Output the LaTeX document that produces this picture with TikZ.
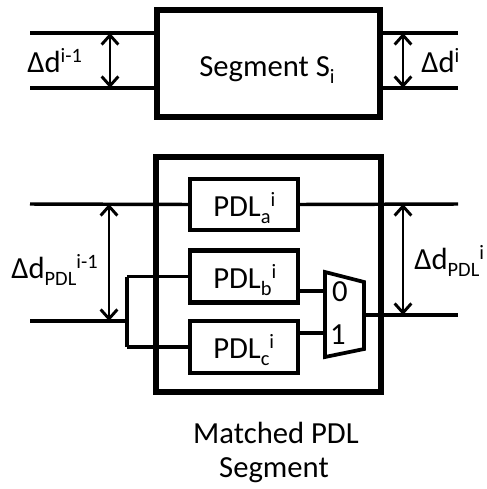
\documentclass[tikz,border=0pt]{standalone}
\usepackage{fontspec}
\setmainfont{Carlito}
\usetikzlibrary{arrows.meta}
\newcommand\sps[1]{\raisebox{0.3em}{\fontsize{15.3}{15.3}\selectfont #1}}
\newcommand\sbs[1]{\raisebox{-0.25em}{\fontsize{15.3}{15.3}\selectfont #1}}
\begin{document}
\begin{tikzpicture}[x=0.75pt,y=-0.75pt,font=\fontsize{23}{27}\selectfont,
  box/.style={draw,line width=3.3pt,fill=white,inner sep=0pt},
  bigbox/.style={draw,line width=3.8pt,inner sep=0pt},
  wire/.style={line width=2.6pt},
  darrow/.style={line width=2.2pt,{Straight Barb[length=7pt,width=12.5pt,line width=2.2pt]}-{Straight Barb[length=7pt,width=12.5pt,line width=2.2pt]}},
  lbl/.style={inner sep=0pt,anchor=base west},
  clbl/.style={inner sep=0pt,anchor=base}]
\useasboundingbox (0,0) rectangle (486,489);
% ---------- top: Segment S_i ----------
\node[bigbox,fill=white,minimum width=167.25pt,minimum height=80.25pt] (S) at (268.5,63.5) {};
\node[clbl] (St) at (267,76) {Segment S\sbs{i}};
\coordinate (tl1) at (30,33);
\coordinate (tl2) at (30,88);
\coordinate (tr1) at (458,33);
\coordinate (tr2) at (458,88);
\draw[wire] (tl1) -- (tl1 -| S.west);
\draw[wire] (tl2) -- (tl2 -| S.west);
\draw[wire] (tr1 -| S.east) -- (tr1);
\draw[wire] (tr2 -| S.east) -- (tr2);
\coordinate (ta1) at (110,33);
\coordinate (ta2) at (110,88);
\coordinate (tb1) at (403,33);
\coordinate (tb2) at (403,88);
\draw[darrow] (ta1) -- (ta2);
\draw[darrow] (tb1) -- (tb2);
\node[lbl] (dl) at (27,72) {Δd\sps{i-1}};
\node[lbl] (dr) at (421,72) {Δd\sps{i}};
% ---------- bottom: Matched PDL segment ----------
\node[bigbox,minimum width=168.75pt,minimum height=176.25pt] (M) at (268.5,274.5) {};
\coordinate (bl1) at (30,204);
\coordinate (br1) at (458,204);
\coordinate (bl2) at (30,321);
\coordinate (fk) at (127,321);
\coordinate (br2) at (458,315);
% mux
\coordinate (m1) at (325,272);
\coordinate (m2) at (364,282);
\coordinate (m3) at (364,349);
\coordinate (m4) at (325,357);
\coordinate (in0) at (325,291);
\coordinate (in1) at (325,333);
\coordinate (mo) at (364,315);
\node[box,minimum width=81pt,minimum height=38.25pt] (Pa) at (244,204.5) {};
\node[box,minimum width=81pt,minimum height=39pt] (Pb) at (244,276.5) {};
\node[box,minimum width=81pt,minimum height=39pt] (Pc) at (244,347) {};
\draw[wire] (bl1) -- (Pa.west);
\draw[wire] (Pa.east) -- (br1);
\draw[wire] (bl2) -- (fk);
\draw[wire] (Pb.west -| fk) -- (Pc.west -| fk);
\draw[wire] (Pb.west -| fk) -- (Pb.west);
\draw[wire] (Pc.west -| fk) -- (Pc.west);
\draw[wire] (in0 -| Pb.east) -- (in0);
\draw[wire] (in1 -| Pc.east) -- (in1);
\draw[wire] (mo) -- (br2);
\draw[line width=2.8pt] (m1) -- (m2) -- (m3) -- (m4) -- cycle;
\node[clbl] (z0) at (340,301) {0};
\node[clbl] (z1) at (338,344) {1};
\node[lbl] (ta) at (213,216) {PDL\sbs{a}\sps{i}};
\node[lbl] (tb) at (213,288) {PDL\sbs{b}\sps{i}};
\node[lbl] (tc) at (213,358) {PDL\sbs{c}\sps{i}};
\coordinate (ba1) at (109,204);
\coordinate (ba2) at (109,321);
\coordinate (bb1) at (403,204);
\coordinate (bb2) at (403,315);
\draw[darrow] (ba1) -- (ba2);
\draw[darrow] (bb1) -- (bb2);
\node[lbl] (dpl) at (11,278) {Δd\sbs{PDL}\sps{i-1}};
\node[lbl] (dpr) at (414,269) {Δd\sbs{PDL}\sps{i}};
\node[clbl] (cap1) at (276,443) {Matched PDL};
\node[clbl] (cap2) at (274,477) {Segment};
\end{tikzpicture}
\end{document}
